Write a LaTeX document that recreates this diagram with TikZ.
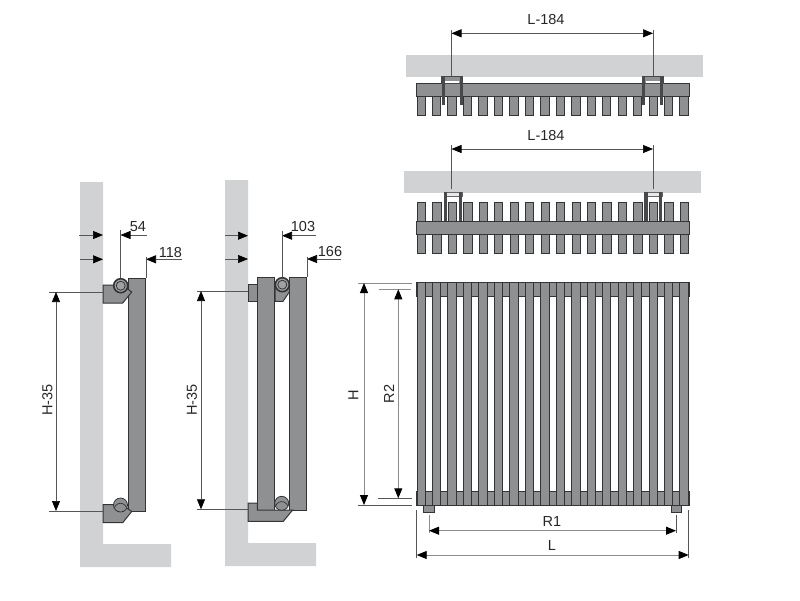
\documentclass[tikz,border=0pt]{standalone}
\usepackage{fontspec}
\setmainfont{Liberation Sans}
\usetikzlibrary{arrows.meta}
\definecolor{wallgray}{HTML}{D1D2D4}
\definecolor{bargray}{HTML}{8F9092}
\definecolor{edgegray}{HTML}{333436}
\definecolor{dimgray}{HTML}{55565A}

\begin{document}
\begin{tikzpicture}[x=1pt,y=-1pt]
  \tikzset{
    wall/.style={fill=wallgray,draw=none},
    bar/.style={fill=bargray,draw=edgegray,line width=1pt},
    line/.style={draw=dimgray,line width=0.7pt},
    softline/.style={draw=black!45,line width=0.9pt},
    dimarrow/.style={line,-{Triangle[length=10pt,width=8pt,color=black]}},
    dimtwo/.style={line,{Triangle[length=10pt,width=8pt,color=black]}-{Triangle[length=10pt,width=8pt,color=black]}},
    softtwo/.style={dimtwo,softline},
    label/.style={inner sep=0pt,font=\fontsize{14.5}{16}\selectfont,text=black!85},
    vlabel/.style={label,rotate=90}
  }
  \useasboundingbox (0,0) rectangle (800,600);

  % walls
  \fill[wall] (80,182) -- (103,182) -- (103,544) -- (171,544) -- (171,567) -- (80,567) -- cycle;
  \fill[wall] (225,180) -- (248,180) -- (248,543) -- (316,543) -- (316,566) -- (225,566) -- cycle;
  \fill[wall] (406,55) rectangle (703,76.5);
  \fill[wall] (404,171) rectangle (701,192.5);

  % side view, one row
  \draw[bar] (128.3,278) rectangle (145.7,511);
  \draw[bar] (103,285) -- (122,285) -- (131.7,292) -- (122.7,303) -- (103,303) -- cycle;
  \draw[bar] (103,504.5) -- (122,504.5) -- (131.7,511.5) -- (122.7,522.7) -- (103,522.7) -- cycle;
  \draw[fill=bargray!85,draw=edgegray,line width=1.6pt] (120.7,285.7) circle (7);
  \draw[edgegray,line width=0.8pt] (120.7,285.7) circle (4.5);
  \draw[fill=bargray,draw=edgegray,line width=0.8pt] (120.5,505) circle (7);
  \draw[edgegray,line width=0.7pt] (114.5,507.5) arc (200:340:6.4);

  % side view, two rows
  \draw[bar] (248,284) rectangle (257.3,301.3);
  \draw[bar] (275,284) -- (289.3,284) -- (289.3,292) -- (283,301.3) -- (275,301.3) -- cycle;
  \draw[bar] (257.3,277) rectangle (274.7,510);
  \draw[bar] (289.3,277) rectangle (306.7,510);
  \draw[bar] (248,503) -- (257.3,503) -- (257.3,510) -- (292.7,510) -- (283.3,521.3) -- (248,521.3) -- cycle;
  \draw[fill=bargray!85,draw=edgegray,line width=1.6pt] (282.3,284.7) circle (7);
  \draw[edgegray,line width=0.8pt] (282.3,284.7) circle (4.5);
  \draw[fill=bargray,draw=edgegray,line width=0.8pt] (281.7,503.3) circle (7);
  \draw[edgegray,line width=0.7pt] (275.7,505.8) arc (200:340:6.4);

  % top views
  \foreach \i in {0,...,17} {
    \draw[bar] (417+15.47*\i,96.7) rectangle ++(8.3,18.3);
    \draw[bar] (417.3+15.47*\i,202.7) rectangle ++(8.3,50.3);
  }
  \draw[bar] (416,83.3) rectangle (689,96.7);
  \draw[bar] (416,221) rectangle (689,234.3);
  \foreach \x in {441.7,642.3} {
    \fill[bargray,draw=edgegray!90,line width=0.9pt] (\x,76) rectangle ++(21,7.3);
    \fill[white] (\x+3.5,80.5) rectangle ++(14,2.8);
    \fill[edgegray!90] (\x,76) rectangle ++(3,29);
    \fill[edgegray!90] (\x+18,76) rectangle ++(3,29);
  }
  \foreach \x in {444,644.3} {
    \draw[edgegray!75,fill=wallgray!50,line width=0.9pt] (\x,192.3) rectangle ++(18,4.4);
    \fill[edgegray!90] (\x,192.3) rectangle ++(3.3,28.7);
    \fill[edgegray!90] (\x+14.7,192.3) rectangle ++(3.3,28.7);
  }

  % front view
  \draw[bar] (416,282.7) rectangle (689,296.7);
  \draw[bar] (416,491.7) rectangle (689,505.7);
  \draw[bar] (423.3,505.7) rectangle (434,512.3);
  \draw[bar] (671,505.7) rectangle (681.7,512.3);
  \foreach \i in {0,...,17} {
    \draw[bar] (417+15.47*\i,282.7) rectangle ++(8.3,223);
  }

  % dimensions, side view one row
  \coordinate (walla) at (79,235);
  \coordinate (wallb) at (103,235);
  \coordinate (dima) at (147,235);
  \coordinate (dimb) at (120.5,235);
  \coordinate (wallc) at (80,259.3);
  \coordinate (walld) at (103,259.3);
  \coordinate (dimc) at (182,259.3);
  \coordinate (dimd) at (146,259.3);
  \draw[dimarrow] (walla) -- (wallb);
  \draw[dimarrow] (dima) -- (dimb);
  \draw[dimarrow] (wallc) -- (walld);
  \draw[dimarrow] (dimc) -- (dimd);
  \draw[line] (120.5,230) -- (120.5,278);
  \draw[line] (146,257) -- (146,278);
  \node[label] (top54) at (138,226.5) {54};
  \node[label] (top118) at (170.5,252.5) {118};
  \coordinate (hta) at (56,292);
  \coordinate (hba) at (56,511);
  \draw[line] (49,292) -- (103,292);
  \draw[line] (49,511) -- (103,511);
  \draw[dimtwo] (hta) -- (hba);
  \node[vlabel] (heighta) at (47.5,400) {H-35};

  % dimensions, side view two rows
  \coordinate (walle) at (225,235.7);
  \coordinate (wallf) at (248,235.7);
  \coordinate (dime) at (316,235.7);
  \coordinate (dimf) at (282,235.7);
  \coordinate (wallg) at (225,259);
  \coordinate (wallh) at (248,259);
  \coordinate (dimg) at (341,259);
  \coordinate (dimh) at (307,259);
  \draw[dimarrow] (walle) -- (wallf);
  \draw[dimarrow] (dime) -- (dimf);
  \draw[dimarrow] (wallg) -- (wallh);
  \draw[dimarrow] (dimg) -- (dimh);
  \draw[line] (282,231) -- (282,277);
  \draw[line] (307,257) -- (307,277);
  \node[label] (top103) at (303,227) {103};
  \node[label] (top166) at (330,252) {166};
  \coordinate (htb) at (201,291);
  \coordinate (hbb) at (201,509.3);
  \draw[line] (197,291) -- (248,291);
  \draw[line] (197,509.3) -- (248,509.3);
  \draw[dimtwo] (htb) -- (hbb);
  \node[vlabel] (heightb) at (192,400) {H-35};

  % dimensions, top views
  \coordinate (la) at (451.5,33.3);
  \coordinate (lb) at (653,33.3);
  \coordinate (lc) at (451.5,149);
  \coordinate (ld) at (653,149);
  \draw[line] (451.5,30) -- (451.5,76);
  \draw[line] (653,30) -- (653,76);
  \draw[line] (451.5,145) -- (451.5,189);
  \draw[line] (653,145) -- (653,189);
  \draw[dimtwo] (la) -- (lb);
  \draw[dimtwo] (lc) -- (ld);
  \node[label] (lena) at (546,19.5) {L-184};
  \node[label] (lenb) at (546,135.5) {L-184};

  % dimensions, front view
  \coordinate (ha) at (364,283);
  \coordinate (hb) at (364,505);
  \coordinate (ra) at (398.3,289.3);
  \coordinate (rb) at (398.3,498.3);
  \coordinate (sa) at (429,530.7);
  \coordinate (sb) at (676,530.7);
  \coordinate (ta) at (416.7,555);
  \coordinate (tb) at (688.7,555);
  \draw[softline] (357.5,283) -- (411.5,283);
  \draw[line] (357.5,505) -- (411.5,505);
  \draw[softline] (379,289.3) -- (411,289.3);
  \draw[line] (378,498.3) -- (412,498.3);
  \draw[softline] (429,515) -- (429,533);
  \draw[line] (676,515) -- (676,533);
  \draw[line] (416.7,510) -- (416.7,558);
  \draw[line] (688.7,510) -- (688.7,558);
  \draw[softtwo] (ha) -- (hb);
  \draw[softtwo] (ra) -- (rb);
  \draw[softtwo] (sa) -- (sb);
  \draw[softtwo] (ta) -- (tb);
  \node[vlabel] (height) at (353.5,395) {H};
  \node[vlabel] (rtwo) at (389,394) {R2};
  \node[label] (rone) at (552,522) {R1};
  \node[label] (len) at (552,546) {L};
\end{tikzpicture}
\end{document}
